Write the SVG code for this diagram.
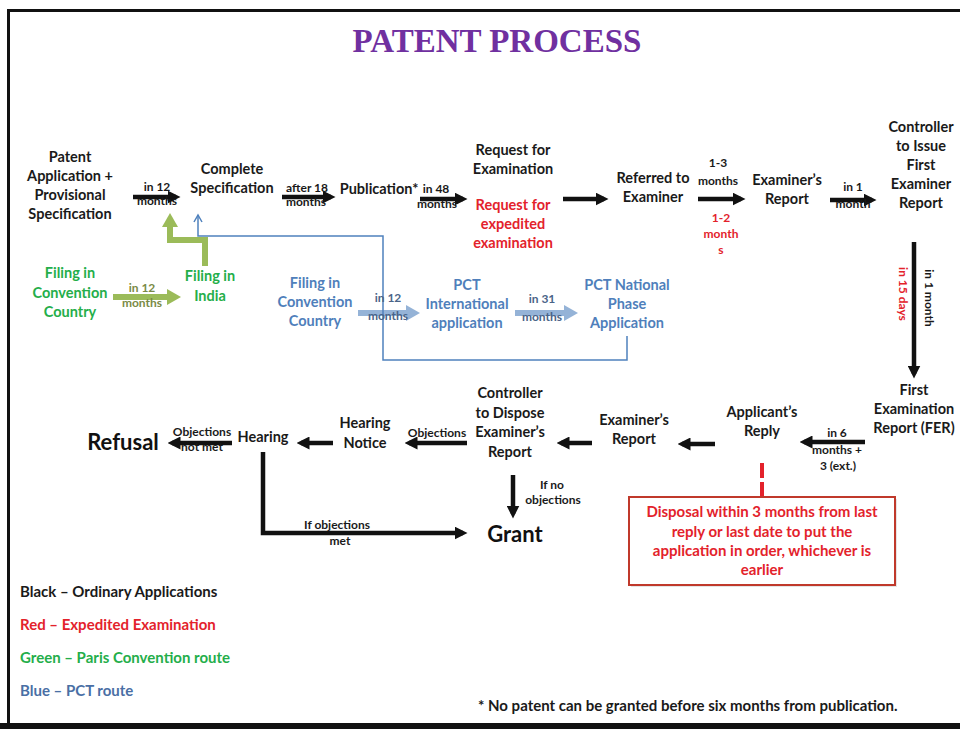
<svg xmlns="http://www.w3.org/2000/svg" width="960" height="729" viewBox="0 0 960 729">
<style>
text{font-family:Lato,"Liberation Sans",sans-serif;font-weight:bold;text-anchor:middle}
.n{font-size:14.5px;fill:#1a1a1a}
.s{font-size:12px;fill:#1a1a1a}
.r{fill:#E3222B}
.g{fill:#24AE4A}
.b{fill:#4F7FBB}
.gs{font-size:12px;fill:#7A8A45}
.bs{font-size:12px;fill:#4A6488}
.big{font-size:22px;fill:#111}
.box{font-size:15px}
.leg{font-size:15px;text-anchor:start}
.ba{stroke:#111;stroke-width:4.5;fill:none}
</style>
<defs>
<marker id="ah" markerUnits="userSpaceOnUse" viewBox="0 0 13 13" markerWidth="13" markerHeight="13" refX="8.5" refY="6.5" orient="auto"><path d="M0,0 L13,6.5 L0,13 z" fill="#111"/></marker>
<marker id="gh" markerUnits="userSpaceOnUse" viewBox="0 0 14 16" markerWidth="14" markerHeight="16" refX="8" refY="8" orient="auto"><path d="M0,0 L14,8 L0,16 z" fill="#9BBB59"/></marker>
<marker id="lb" markerUnits="userSpaceOnUse" viewBox="0 0 14 16" markerWidth="14" markerHeight="16" refX="8" refY="8" orient="auto"><path d="M0,0 L14,8 L0,16 z" fill="#95B3D7"/></marker>
<marker id="bo" markerUnits="userSpaceOnUse" viewBox="0 0 10 10" markerWidth="10" markerHeight="10" refX="8" refY="5" orient="auto"><path d="M1,1 L8,5 L1,9" fill="none" stroke="#4F81BD" stroke-width="1.5"/></marker>
</defs>
<rect width="960" height="729" fill="#fff"/>
<g id="frame">
<line x1="8" y1="10.5" x2="960" y2="10.5" stroke="#111" stroke-width="3"/>
<line x1="8.5" y1="9" x2="8.5" y2="729" stroke="#111" stroke-width="3"/>
<rect x="0" y="723" width="960" height="6" fill="#111"/>
</g>
<text x="497" y="52" style="font-family:'Liberation Serif',serif;font-size:33px;fill:#7030A0">PATENT PROCESS</text>

<g id="connectors">
<line class="ba" x1="133" y1="197" x2="176" y2="197" marker-end="url(#ah)"/>
<line class="ba" x1="282" y1="197" x2="331" y2="197" marker-end="url(#ah)"/>
<line class="ba" x1="420" y1="199" x2="463" y2="199" marker-end="url(#ah)"/>
<line class="ba" x1="563" y1="199" x2="604" y2="199" marker-end="url(#ah)"/>
<line class="ba" x1="698" y1="199" x2="741" y2="199" marker-end="url(#ah)"/>
<line class="ba" x1="830" y1="200" x2="872" y2="200" marker-end="url(#ah)"/>
<line class="ba" x1="914" y1="242" x2="914" y2="374" marker-end="url(#ah)"/>
<line class="ba" x1="865" y1="442" x2="804" y2="442" marker-end="url(#ah)"/>
<line class="ba" x1="715" y1="444" x2="682" y2="444" marker-end="url(#ah)"/>
<line class="ba" x1="592" y1="443" x2="561" y2="443" marker-end="url(#ah)"/>
<line class="ba" x1="467" y1="443" x2="409" y2="443" marker-end="url(#ah)"/>
<line class="ba" x1="333" y1="443" x2="301" y2="443" marker-end="url(#ah)"/>
<line class="ba" x1="232" y1="443" x2="172" y2="443" marker-end="url(#ah)"/>
<line class="ba" x1="513" y1="475" x2="513" y2="514" marker-end="url(#ah)"/>
<path class="ba" d="M263,452 L263,533 L463,533" marker-end="url(#ah)"/>
<line x1="113" y1="297" x2="175" y2="297" stroke="#9BBB59" stroke-width="6" marker-end="url(#gh)"/>
<path d="M205,266 L205,240 L170,240 L170,219" fill="none" stroke="#9BBB59" stroke-width="6" marker-end="url(#gh)"/>
<line x1="358" y1="313" x2="414" y2="313" stroke="#95B3D7" stroke-width="6" marker-end="url(#lb)"/>
<line x1="515" y1="313" x2="572" y2="313" stroke="#95B3D7" stroke-width="6" marker-end="url(#lb)"/>
<path d="M627,336 L627,360 L383,360 L383,236 L198,236 L198,215" fill="none" stroke="#4F81BD" stroke-width="1.5" marker-end="url(#bo)"/>
<line x1="762" y1="463" x2="762" y2="497" stroke="#E3222B" stroke-width="4" stroke-dasharray="15 4"/>
<g id="edge-labels">
<text class="s" x="157" y="191">in 12</text><text class="s" x="157" y="205">months</text>
<text class="s" x="307" y="192">after 18</text><text class="s" x="306" y="206">months</text>
<text class="s" x="436" y="193">in 48</text><text class="s" x="437" y="208">months</text>
<text class="s" x="718" y="167">1-3</text><text class="s" x="718" y="185">months</text>
<text class="s r" x="721" y="222">1-2</text><text class="s r" x="721" y="238">month</text><text class="s r" x="721" y="254">s</text>
<text class="s" x="853" y="191">in 1</text><text class="s" x="853" y="208">month</text>
<text class="s r" transform="translate(899,294) rotate(90)">in 15 days</text>
<text class="s" transform="translate(925,298) rotate(90)">in 1 month</text>
<text class="s" x="837" y="437">in 6</text><text class="s" x="837" y="454">months +</text><text class="s" x="838" y="470">3 (ext.)</text>
<text class="s" x="437" y="437">Objections</text>
<text class="s" x="202" y="436">Objections</text><text class="s" x="202" y="451">not met</text>
<text class="s" x="337" y="529">If objections</text><text class="s" x="340" y="545">met</text>
<text class="s" x="552" y="489">If no</text><text class="s" x="553" y="504">objections</text>
<text class="gs" x="142" y="292">in 12</text><text class="gs" x="142" y="307">months</text>
<text class="bs" x="388" y="302">in 12</text><text class="bs" x="388" y="320">months</text>
<text class="bs" x="542" y="303">in 31</text><text class="bs" x="542" y="321">months</text>
</g>
</g>

<g id="patent-application"><text class="n" x="70" y="162">Patent</text><text class="n" x="70" y="181">Application +</text><text class="n" x="70" y="200">Provisional</text><text class="n" x="70" y="219">Specification</text></g>
<g id="complete-specification"><text class="n" x="232" y="174">Complete</text><text class="n" x="232" y="193">Specification</text></g>
<g id="publication"><text class="n" x="379" y="194">Publication*</text></g>
<g id="request-examination"><text class="n" x="513" y="155">Request for</text><text class="n" x="513" y="174">Examination</text>
<text class="n r" x="513" y="210">Request for</text><text class="n r" x="513" y="229">expedited</text><text class="n r" x="513" y="248">examination</text></g>
<g id="referred-examiner"><text class="n" x="653" y="183">Referred to</text><text class="n" x="653" y="202">Examiner</text></g>
<g id="examiners-report-1"><text class="n" x="787" y="185">Examiner’s</text><text class="n" x="787" y="204">Report</text></g>
<g id="controller-issue"><text class="n" x="921" y="132">Controller</text><text class="n" x="921" y="151">to Issue</text><text class="n" x="921" y="170">First</text><text class="n" x="921" y="189">Examiner</text><text class="n" x="921" y="208">Report</text></g>
<g id="fer"><text class="n" x="914" y="395">First</text><text class="n" x="914" y="414">Examination</text><text class="n" x="914" y="433">Report (FER)</text></g>
<g id="applicants-reply"><text class="n" x="762" y="417">Applicant’s</text><text class="n" x="762" y="436">Reply</text></g>
<g id="examiners-report-2"><text class="n" x="634" y="425">Examiner’s</text><text class="n" x="634" y="444">Report</text></g>
<g id="controller-dispose"><text class="n" x="510" y="398">Controller</text><text class="n" x="510" y="418">to Dispose</text><text class="n" x="510" y="437">Examiner’s</text><text class="n" x="510" y="457">Report</text></g>
<g id="hearing-notice"><text class="n" x="365" y="428">Hearing</text><text class="n" x="365" y="448">Notice</text></g>
<g id="hearing"><text class="n" x="263" y="442">Hearing</text></g>
<g id="refusal"><text class="big" x="123" y="450">Refusal</text></g>
<g id="grant"><text class="big" x="515" y="542">Grant</text></g>
<g id="disposal-note">
<rect x="631" y="499" width="266" height="88" fill="#ccc" opacity="0.5"/>
<rect x="629" y="497" width="266" height="88" fill="#fff" stroke="#C0392B" stroke-width="2"/>
<text class="n r box" x="762" y="517">Disposal within 3 months from last</text>
<text class="n r box" x="762" y="537">reply or last date to put the</text>
<text class="n r box" x="762" y="556">application in order, whichever is</text>
<text class="n r box" x="762" y="575">earlier</text>
</g>
<g id="filing-convention-green"><text class="n g" x="70" y="278">Filing in</text><text class="n g" x="70" y="298">Convention</text><text class="n g" x="70" y="317">Country</text></g>
<g id="filing-india"><text class="n g" x="210" y="281">Filing in</text><text class="n g" x="210" y="301">India</text></g>
<g id="filing-convention-blue"><text class="n b" x="315" y="288">Filing in</text><text class="n b" x="315" y="307">Convention</text><text class="n b" x="315" y="326">Country</text></g>
<g id="pct-international"><text class="n b" x="467" y="290">PCT</text><text class="n b" x="467" y="309">International</text><text class="n b" x="467" y="328">application</text></g>
<g id="pct-national"><text class="n b" x="627" y="290">PCT National</text><text class="n b" x="627" y="309">Phase</text><text class="n b" x="627" y="328">Application</text></g>
<g id="legend">
<text class="leg" x="20" y="597" style="fill:#1a1a1a">Black – Ordinary Applications</text>
<text class="leg r" x="20" y="630">Red – Expedited Examination</text>
<text class="leg g" x="20" y="663">Green – Paris Convention route</text>
<text class="leg" x="20" y="696" style="fill:#4A6FA5">Blue – PCT route</text>
<text class="leg" x="478" y="711" style="fill:#1a1a1a">* No patent can be granted before six months from publication.</text>
</g>
</svg>
